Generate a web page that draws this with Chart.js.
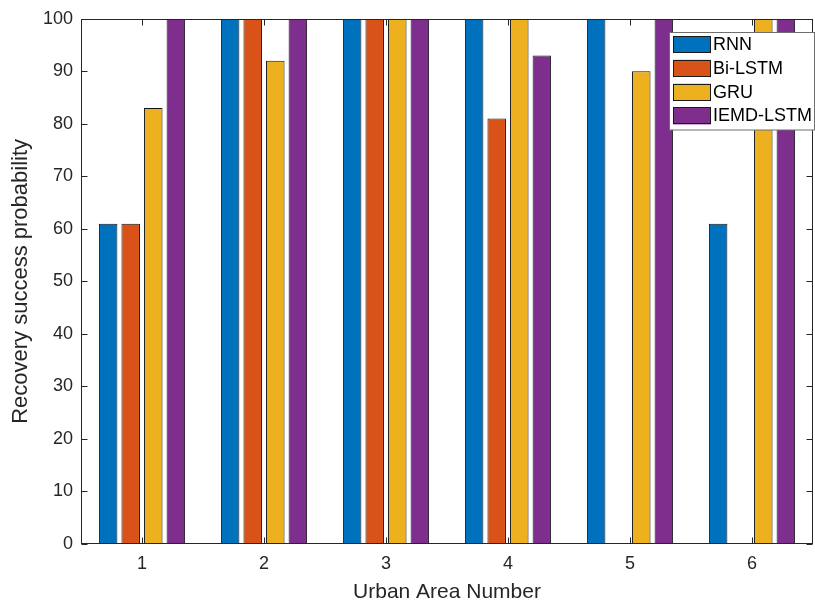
<!DOCTYPE html>
<html>
<head>
<meta charset="utf-8">
<script src="https://cdn.jsdelivr.net/npm/chart.js@4/dist/chart.umd.min.js"></script>
<style>
html,body{margin:0;padding:0;background:#fff;}
#wrap{width:815px;height:603px;}
</style>
</head>
<body>
<div id="wrap"><canvas id="c" width="815" height="603"></canvas></div>
<script>
// ---- data ----
const categories = ['1', '2', '3', '4', '5', '6'];
const seriesNames = ['RNN', 'Bi-LSTM', 'GRU', 'IEMD-LSTM'];
const rnn      = [61, 100, 100, 100, 100, 61];
const biLstm   = [61, 100, 100, 81, 0, 0];
const gru      = [83, 92, 100, 100, 90, 100];
const iemdLstm = [100, 100, 100, 93, 100, 100];
const yTicks   = [0, 10, 20, 30, 40, 50, 60, 70, 80, 90, 100];
const xTitle = 'Urban Area Number';
const yTitle = 'Recovery success probability';

const colors = ['#0072BD', '#D95319', '#EDB120', '#7E2F8E'];
const seriesValues = [rnn, biLstm, gru, iemdLstm];
const AX = '#262626';
const FONT = "'Liberation Sans', Arial, Helvetica, sans-serif";

const datasets = seriesValues.map((vals, i) => ({
  label: seriesNames[i],
  data: vals,
  backgroundColor: colors[i],
  borderColor: '#141414',
  borderWidth: 1,
  borderSkipped: 'start',
  barPercentage: 0.82,
  categoryPercentage: 0.74
}));

const framePlugin = {
  id: 'frame',
  afterDatasetsDraw(chart) {
    const {ctx, chartArea: a, scales} = chart;
    const L = Math.round(a.left) + 0.5, R = Math.round(a.right) - 0.5;
    const T = Math.round(a.top) + 0.5, B = Math.round(a.bottom) - 0.5;
    ctx.save();
    ctx.strokeStyle = AX;
    ctx.lineWidth = 1;
    ctx.strokeRect(L, T, R - L, B - T);
    const tl = 6;
    ctx.beginPath();
    yTicks.forEach(v => {
      const y = Math.round(scales.y.getPixelForValue(v)) + 0.5;
      ctx.moveTo(L, y); ctx.lineTo(L + tl, y);
      ctx.moveTo(R, y); ctx.lineTo(R - tl, y);
    });
    categories.forEach((c, i) => {
      const x = Math.round(scales.x.getPixelForValue(i)) + 0.5;
      ctx.moveTo(x, B); ctx.lineTo(x, B - tl);
      ctx.moveTo(x, T); ctx.lineTo(x, T + tl);
    });
    ctx.stroke();

    // legend box (inside, top-right)
    const lx = 669.5, ly = 32.5, lw = 145, lh = 97.5;
    ctx.fillStyle = '#ffffff';
    ctx.fillRect(lx, ly, lw, lh);
    ctx.strokeStyle = '#6e6e6e';
    ctx.strokeRect(lx, ly, lw, lh);
    ctx.font = '18px ' + FONT;
    ctx.textBaseline = 'middle';
    ctx.textAlign = 'left';
    seriesNames.forEach((name, i) => {
      const sy = 36 + i * 23.8;
      ctx.fillStyle = colors[i];
      ctx.fillRect(673, sy, 38, 17);
      ctx.strokeStyle = '#1a1a1a';
      ctx.strokeRect(673.5, Math.round(sy) + 0.5, 37, 16);
      ctx.fillStyle = '#000000';
      ctx.fillText(name, 713, sy + 9);
    });
    ctx.restore();
  }
};

new Chart(document.getElementById('c'), {
  type: 'bar',
  data: { labels: categories, datasets },
  options: {
    responsive: false,
    animation: false,
    devicePixelRatio: 1,
    layout: { padding: { left: 0, top: 17, right: 2, bottom: 0 } },
    plugins: { legend: { display: false }, tooltip: { enabled: false } },
    scales: {
      x: {
        grid: { display: false, drawTicks: false },
        border: { display: false },
        ticks: { color: AX, font: { family: FONT, size: 18 }, padding: 9 },
        title: { display: true, text: xTitle, color: AX, font: { family: FONT, size: 21, lineHeight: 1 }, padding: { top: 0, bottom: 0 } },
        afterFit(s) { s.height = 59; }
      },
      y: {
        min: 0, max: 100,
        grid: { display: false, drawTicks: false },
        border: { display: false },
        afterBuildTicks(s) { s.ticks = yTicks.map(v => ({ value: v })); },
        ticks: { color: AX, font: { family: FONT, size: 18 }, padding: 8 },
        title: { display: true, text: yTitle, color: AX, font: { family: FONT, size: 22, lineHeight: 1 }, padding: { top: 10, bottom: 0 } },
        afterFit(s) { s.width = 81; }
      }
    }
  },
  plugins: [framePlugin]
});
</script>
</body>
</html>
